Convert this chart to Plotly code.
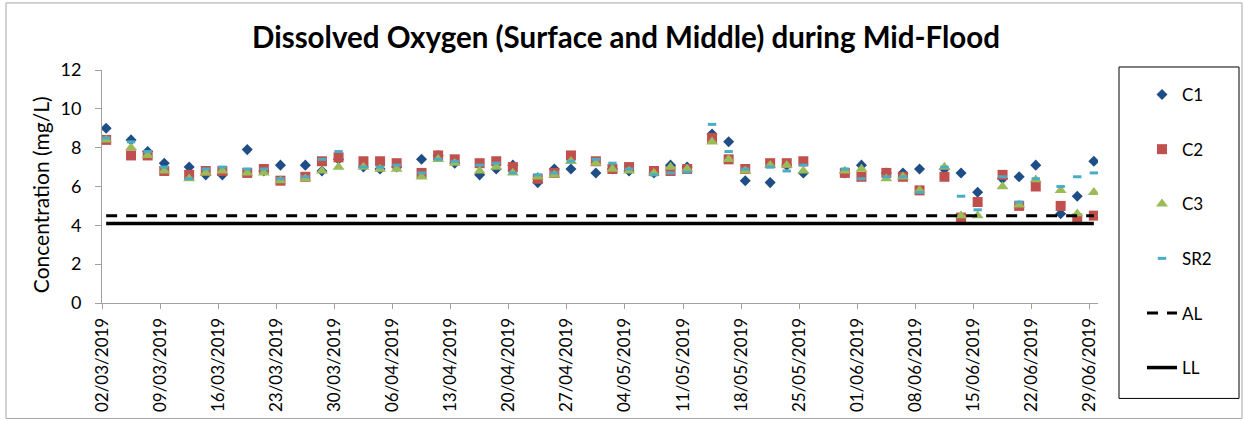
import pandas as pd
import plotly.graph_objects as go

dates = ["2019-03-02", "2019-03-05", "2019-03-07", "2019-03-09", "2019-03-12", "2019-03-14",
         "2019-03-16", "2019-03-19", "2019-03-21", "2019-03-23", "2019-03-26", "2019-03-28",
         "2019-03-30", "2019-04-02", "2019-04-04", "2019-04-06", "2019-04-09", "2019-04-11",
         "2019-04-13", "2019-04-16", "2019-04-18", "2019-04-20", "2019-04-23", "2019-04-25",
         "2019-04-27", "2019-04-30", "2019-05-02", "2019-05-04", "2019-05-07", "2019-05-09",
         "2019-05-11", "2019-05-14", "2019-05-16", "2019-05-18", "2019-05-21", "2019-05-23",
         "2019-05-25", "2019-05-30", "2019-06-01", "2019-06-04", "2019-06-06", "2019-06-08",
         "2019-06-11", "2019-06-13", "2019-06-15", "2019-06-18", "2019-06-20", "2019-06-22",
         "2019-06-25", "2019-06-27", "2019-06-29"]

c1 = [9.0, 8.4, 7.8, 7.2, 7.0, 6.6, 6.6, 7.9, 6.8, 7.1, 7.1, 6.8, 7.4, 7.0, 6.9, 7.0, 7.4,
      7.6, 7.2, 6.6, 6.9, 7.1, 6.2, 6.9, 6.9, 6.7, 6.9, 6.8, 6.7, 7.1, 7.0, 8.7, 8.3, 6.3,
      6.2, 7.1, 6.7, 6.7, 7.1, 6.7, 6.7, 6.9, 6.9, 6.7, 5.7, 6.4, 6.5, 7.1, 4.6, 5.5, 7.3]
c2 = [8.4, 7.6, 7.6, 6.8, 6.6, 6.8, 6.8, 6.7, 6.9, 6.3, 6.5, 7.3, 7.5, 7.3, 7.3, 7.2, 6.7,
      7.6, 7.4, 7.2, 7.3, 7.0, 6.4, 6.7, 7.6, 7.3, 6.9, 7.0, 6.8, 6.8, 6.9, 8.5, 7.4, 6.9,
      7.2, 7.2, 7.3, 6.7, 6.5, 6.7, 6.5, 5.8, 6.5, 4.4, 5.2, 6.6, 5.0, 6.0, 5.0, 4.35, 4.5]
c3 = [8.4, 8.0, 7.6, 6.8, 6.4, 6.7, 6.8, 6.7, 6.7, 6.3, 6.4, 6.8, 7.0, 7.0, 6.9, 6.9, 6.5,
      7.4, 7.2, 6.8, 7.0, 6.7, 6.5, 6.6, 7.3, 7.2, 6.9, 6.8, 6.7, 7.0, 6.9, 8.3, 7.4, 6.8,
      7.1, 7.1, 6.8, 6.8, 6.9, 6.4, 6.5, 5.8, 7.0, 4.5, 4.5, 6.0, 5.05, 6.35, 5.8, 4.6, 5.7]
sr2 = [8.5, 8.3, 7.8, 7.0, 6.4, 6.9, 7.0, 6.9, 6.9, 6.4, 6.5, 7.4, 7.8, 7.0, 7.0, 7.1, 6.7,
       7.4, 7.3, 7.1, 7.2, 6.7, 6.6, 6.7, 7.3, 7.4, 7.2, 6.9, 6.6, 6.7, 6.75, 9.2, 7.8, 6.9,
       7.0, 6.8, 7.1, 6.9, 6.4, 6.5, 6.5, 5.7, 7.0, 5.5, 4.8, 6.5, 5.2, 6.4, 6.0, 6.5, 6.7]

al_value = 4.5
ll_value = 4.1

title_text = "Dissolved Oxygen (Surface and Middle) during Mid-Flood"
y_title = "Concentration (mg/L)"

FONT = "Lato, 'Open Sans', sans-serif"

x = pd.to_datetime(dates) + pd.Timedelta(hours=12)
x_lim = [x[0], x[-1]]

fig = go.Figure()

series = [
    ("C1", c1, dict(symbol="diamond", size=8.5, color="#1F4E86")),
    ("C2", c2, dict(symbol="square", size=10, color="#C0504D")),
    ("C3", c3, dict(symbol="triangle-up", size=10.5, color="#9BBB59")),
]
for name, vals, mk in series:
    fig.add_trace(go.Scatter(x=x, y=vals, mode="markers", name=name, legendgroup=name,
                             marker=mk))

fig.add_trace(go.Scatter(x=x, y=sr2, mode="markers", name="SR2", legendgroup="SR2",
                         marker=dict(symbol="line-ew", size=6,
                                     line=dict(color="#4BACC6", width=3), color="#4BACC6")))

fig.add_trace(go.Scatter(x=x_lim, y=[al_value, al_value], mode="lines", name="AL", legendgroup="AL",
                         line=dict(color="black", width=3, dash="11px,9px")))
fig.add_trace(go.Scatter(x=x_lim, y=[ll_value, ll_value], mode="lines", name="LL", legendgroup="LL",
                         line=dict(color="black", width=3.5)))

# paper coords helpers (plot area: x 102..1098 px, y 70..302.7 px)
L, R, T, B = 102, 1098, 70, 302.7
def px(v):
    return (v - L) / (R - L)
def py(v):
    return (B - v) / (B - T)

fig.update_layout(
    width=1245, height=421,
    margin=dict(l=L, r=1245 - R, t=T, b=421 - B, autoexpand=False),
    paper_bgcolor="white", plot_bgcolor="white",
    font=dict(family=FONT, color="black"),
    showlegend=True,
    legend=dict(x=px(1142), xanchor="left", y=py(77), yanchor="top",
                font=dict(family=FONT, size=17, color="black"),
                tracegroupgap=29.5, bgcolor="rgba(0,0,0,0)", borderwidth=0,
                itemwidth=30, maxheight=400),
    annotations=[
        dict(text="<b>" + title_text + "</b>", xref="paper", yref="paper",
             x=px(626), y=py(37), xanchor="center", yanchor="middle", showarrow=False,
             font=dict(family=FONT, size=29.5, color="black")),
        dict(text=y_title, xref="paper", yref="paper", x=px(40), y=py(195),
             xanchor="center", yanchor="middle", textangle=-90, showarrow=False,
             font=dict(family=FONT, size=21, color="black")),
    ],
    shapes=[
        dict(type="rect", xref="paper", yref="paper", x0=px(6), x1=px(1242), y0=py(418), y1=py(3),
             line=dict(color="#A6A6A6", width=1), layer="below"),
        dict(type="rect", xref="paper", yref="paper", x0=px(1119), x1=px(1239), y0=py(398), y1=py(67),
             line=dict(color="black", width=1), layer="below"),
    ],
)

fig.update_xaxes(type="date", range=["2019-03-02", "2019-06-30"], tick0="2019-03-02",
                 dtick=7 * 86400000, tickformat="%d/%m/%Y", tickangle=-90,
                 ticks="outside", ticklen=5, tickcolor="#A0A0A0", showline=True,
                 linecolor="#A0A0A0", linewidth=1, showgrid=False, zeroline=False,
                 tickfont=dict(family=FONT, size=17, color="black"), ticklabelstandoff=2)
fig.update_yaxes(range=[0, 12], dtick=2, ticks="outside", ticklen=6, tickcolor="#A0A0A0",
                 showline=True, linecolor="#A0A0A0", linewidth=1, showgrid=False,
                 zeroline=False, tickfont=dict(family=FONT, size=18, color="black"),
                 ticklabelstandoff=10)

fig.write_html("out.html", config={"displayModeBar": False},
               post_script="document.body.style.margin='0';document.body.style.overflow='hidden';")
